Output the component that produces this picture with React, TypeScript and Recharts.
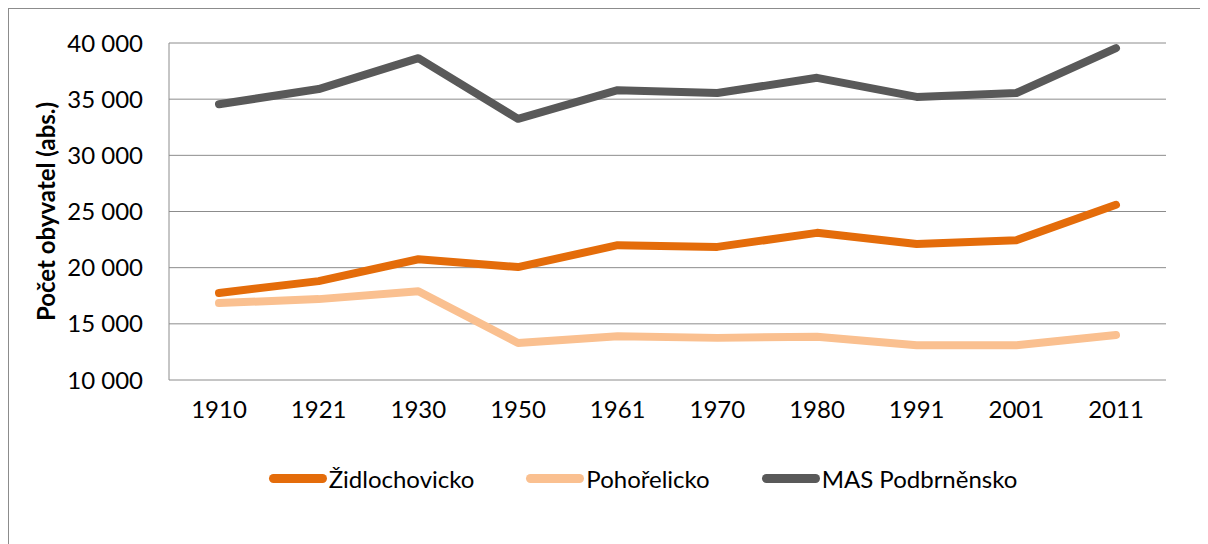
import { LineChart, Line, XAxis, YAxis, CartesianGrid, Legend } from "recharts"

const years = ["1910", "1921", "1930", "1950", "1961", "1970", "1980", "1991", "2001", "2011"]
const zidlochovicko = [17750, 18800, 20750, 20050, 22000, 21850, 23100, 22100, 22450, 25600]
const pohorelicko = [16850, 17200, 17900, 13300, 13900, 13750, 13850, 13100, 13100, 14000]
const podbrnensko = [34550, 35900, 38650, 33250, 35800, 35550, 36900, 35200, 35550, 39550]
const yTicks = [10000, 15000, 20000, 25000, 30000, 35000, 40000]

const seriesInfo = [
  { key: "zid", name: "Židlochovicko", color: "#e46c0a" },
  { key: "poh", name: "Pohořelicko", color: "#fac090" },
  { key: "mas", name: "MAS Podbrněnsko", color: "#595959" },
]

const chartData = years.map((year, i) => ({
  year,
  zid: zidlochovicko[i],
  poh: pohorelicko[i],
  mas: podbrnensko[i],
}))

const FONT = "Lato, 'Open Sans', sans-serif"

// simple legend: thick rounded swatch + label
const renderLegend = () => (
  <div style={{ display: "flex", justifyContent: "center", fontFamily: FONT, fontSize: 24 }}>
    {seriesInfo.map((s) => (
      <div key={s.key} style={{ display: "flex", alignItems: "center", margin: "0 26px" }}>
        <span
          style={{
            display: "inline-block",
            width: 58,
            height: 9,
            borderRadius: 5,
            background: s.color,
            marginRight: 2,
          }}
        />
        <span style={{ color: "#000" }}>{s.name}</span>
      </div>
    ))}
  </div>
)

export default function App() {
  return (
    <div style={{ width: 1210, height: 545, border: "1px solid #8c8c8c", boxSizing: "border-box" }}>
      <LineChart
        width={1208}
        height={543}
        data={chartData}
        margin={{ top: 34, right: 51, left: 0, bottom: 128 }}
      >
        <CartesianGrid vertical={false} stroke="#8c8c8c" strokeWidth={1} />
        <XAxis
          dataKey="year"
          axisLine={false}
          tickLine={false}
          height={44}
          padding={{ left: 50, right: 50 }}
          tick={{ fill: "#000", fontSize: 24, fontFamily: FONT }}
          tickMargin={15}
        />
        <YAxis
          width={160}
          domain={[10000, 40000]}
          ticks={yTicks}
          interval={0}
          axisLine={{ stroke: "#8c8c8c" }}
          tickLine={false}
          tickMargin={20}
          tickFormatter={(v: number) => `${v / 1000} 000`}
          tick={{ fill: "#000", fontSize: 24, fontFamily: FONT }}
          label={{
            value: "Počet obyvatel (abs.)",
            angle: -90,
            position: "center",
            dx: -43,
            style: { fill: "#000", fontSize: 24, fontWeight: "bold", fontFamily: FONT },
          }}
        />
        <Legend
          layout="horizontal"
          verticalAlign="middle"
          align="center"
          content={renderLegend}
          wrapperStyle={{ top: 455, left: 30, width: 1208 }}
        />
        {seriesInfo.map((s) => (
          <Line
            key={s.key}
            dataKey={s.key}
            name={s.name}
            stroke={s.color}
            strokeWidth={8}
            strokeLinecap="round"
            strokeLinejoin="round"
            dot={false}
            activeDot={false}
            isAnimationActive={false}
          />
        ))}
      </LineChart>
    </div>
  )
}
